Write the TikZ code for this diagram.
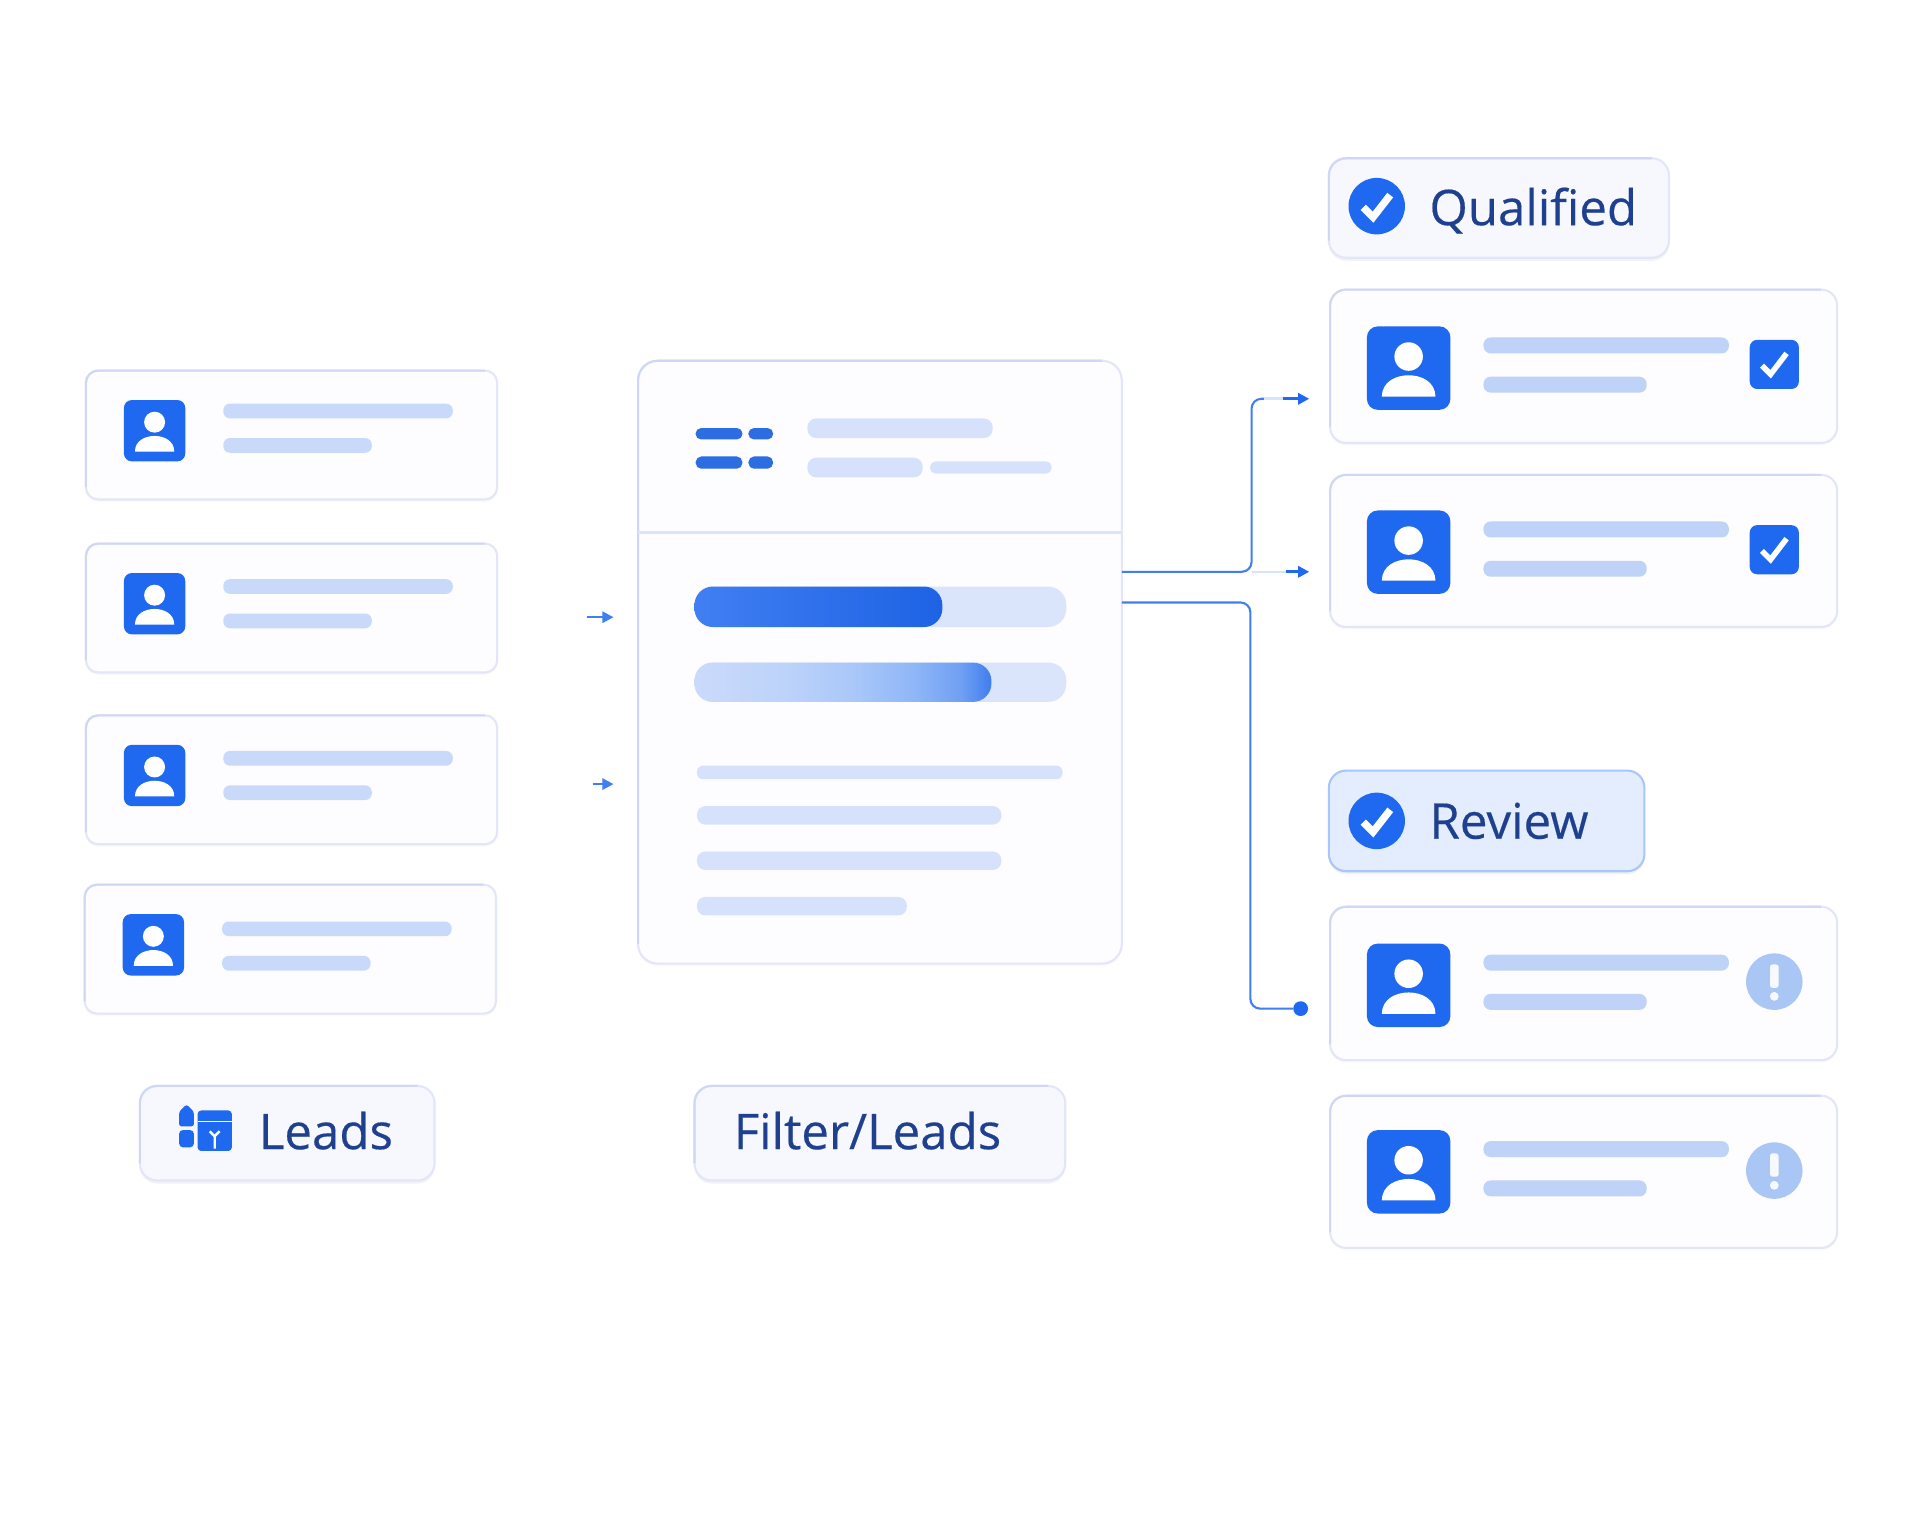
\documentclass[tikz,border=0pt]{standalone}
\usepackage{fontspec}
\setmainfont[Ligatures=NoCommon,FakeBold=0.35]{Open Sans}
\usetikzlibrary{arrows.meta,shadows,calc}
\definecolor{brandblue}{HTML}{1F68F0}
\definecolor{barsoft}{HTML}{C9D9FA}
\definecolor{barright}{HTML}{BFD2F7}
\definecolor{barpanel}{HTML}{D6E2FB}
\definecolor{track}{HTML}{DAE5FB}
\definecolor{cardfill}{HTML}{FDFCFF}
\definecolor{cardline}{HTML}{E3E6F8}
\definecolor{cardedge}{HTML}{CFD7F4}
\definecolor{labelfill}{HTML}{F6F8FE}
\definecolor{labelink}{HTML}{1F408F}
\definecolor{warnblue}{HTML}{A9C6F5}
\definecolor{connblue}{HTML}{3F7FF2}
\definecolor{connfaint}{HTML}{D6E3FD}
\definecolor{dashblue}{HTML}{2C6DE2}
\definecolor{gradA}{HTML}{CADAFB}
\definecolor{gradB}{HTML}{BDD3FA}
\definecolor{gradC}{HTML}{A9C7F9}
\definecolor{gradD}{HTML}{8FB6F7}
\definecolor{gradF}{HTML}{6F9FF3}
\definecolor{gradE}{HTML}{3F7DEF}
\pgfdeclarehorizontalshading{progtwo}{100bp}{color(0bp)=(gradA); color(25bp)=(gradA); color(40bp)=(gradB); color(52bp)=(gradC); color(62bp)=(gradD); color(70bp)=(gradF); color(75bp)=(gradE); color(100bp)=(gradE)}
\tikzset{
  every node/.style={outer sep=0pt},
  cardbox/.style={draw=cardline,fill=cardfill,line width=.17mm,rounded corners=.1cm,anchor=north west,inner sep=0pt,
    general shadow={fill=black!2,shadow yshift=-.02cm}},
  labelbox/.style={draw=cardline,fill=labelfill,line width=.17mm,rounded corners=.14cm,anchor=north west,inner sep=0pt,
    general shadow={fill=black!5,shadow yshift=-.025cm}},
  avatarbox/.style={fill=brandblue,inner sep=0pt,anchor=north west},
  labeltext/.style={text=labelink,anchor=base west,inner sep=0pt,font=\fontsize{11.4}{13}\selectfont},
  conn/.style={draw=connblue,line width=.17mm,rounded corners=.08cm},
  connlight/.style={draw=connfaint,line width=.2mm},
  stub/.style={draw=brandblue,line width=.25mm,-{Triangle[length=.09cm,width=.09cm]}},
  whitecheck/.style={draw=white,line width=.06cm,line join=miter}
}
% darker top and left edge: name, radius
\newcommand\edgeline[2]{\draw[draw=cardedge,line width=.17mm,rounded corners=#2] ($(#1.south west)+(0,#2)$) -- (#1.north west) -- ($(#1.north east)+(-#2,0)$);}
% x1 y1 x2 y2 colour
\newcommand\pillbar[5]{\fill[#5,rounded corners={((#4)-(#2))*.0045cm}] (#1,#2) rectangle (#3,#4);}
% name x y size
\newcommand\avatar[4]{%
  \node[avatarbox,rounded corners={#4*.0013cm},minimum size={#4*.01cm}] (#1) at (#2,#3) {};
  \begin{scope}[shift={(#1.center)},x={#4*.0001cm},y={-#4*.0001cm}]
    \fill[white] (0,-13) circle[radius=16];
    \fill[white] (-30,32) .. controls (-30,15) and (-14,8) .. (0,8) .. controls (14,8) and (30,15) .. (30,32) -- cycle;
  \end{scope}}
% name x y baroffset
\newcommand\leadcard[4]{%
  \node[cardbox,minimum width=3.35cm,minimum height=1.05cm] (#1) at (#2,#3) {};
  \edgeline{#1}{.1cm}
  \avatar{#1a}{#2+31}{#3+24}{50}
  \pillbar{#2+112}{#3+27+#4}{#2+299}{#3+39+#4}{barsoft}
  \pillbar{#2+112}{#3+55+#4}{#2+233}{#3+67+#4}{barsoft}}
% name offset y height
\newcommand\rightcard[4]{%
  \node[cardbox,rounded corners=.13cm,minimum width=4.13cm,minimum height={#4*.01cm}] (#1) at (1084,#3) {};
  \edgeline{#1}{.13cm}
  \avatar{#1a}{1114}{#3+30+#2}{68}
  \pillbar{1209}{#3+39+#2}{1409}{#3+52+#2}{barright}
  \pillbar{1209}{#3+71+#2}{1342}{#3+84+#2}{barright}}
% name cx cy
\newcommand\chkbox[3]{%
  \node[fill=brandblue,rounded corners=.06cm,minimum size=.4cm,inner sep=0pt] (#1) at (#2,#3) {};
  \draw[whitecheck,line width=.045cm] (#2-10,#3+1) -- (#2-3,#3+8) -- (#2+10,#3-9);}
\newcommand\warnmark[3]{%
  \node[fill=warnblue,circle,minimum size=.46cm,inner sep=0pt] (#1) at (#2,#3) {};
  \fill[white!90!warnblue,rounded corners=.02cm] (#2-3.5,#3-14) rectangle (#2+3.5,#3+5);
  \fill[white!90!warnblue] (#2,#3+12) circle[radius=3.6];}
\newcommand\okcircle[3]{%
  \node[fill=brandblue,circle,minimum size=.46cm,inner sep=0pt] (#1) at (#2,#3) {};
  \draw[whitecheck] (#2-11,#3+1) -- (#2-3,#3+9) -- (#2+11,#3-9);}
\begin{document}
\begin{tikzpicture}[x=.01cm,y=-.01cm]
\useasboundingbox (0,0) rectangle (1568,1245);
\fill[white] (0,0) rectangle (1568,1245);
% left cards
\leadcard{lead1}{70}{302}{0}
\leadcard{lead2}{70}{443}{2}
\leadcard{lead3}{70}{583}{2}
\leadcard{lead4}{69}{721}{3}
% panel
\node[cardbox,rounded corners=.16cm,minimum width=3.94cm,minimum height=4.91cm] (panel) at (520,294) {};
\edgeline{panel}{.16cm}
\coordinate (divl) at (520,434);
\draw[draw=track,line width=.2mm] (divl) -- (divl -| panel.east);
\pillbar{567}{349}{605}{358}{dashblue}
\pillbar{610}{349}{630}{358}{dashblue}
\pillbar{567}{372}{605}{382}{dashblue}
\pillbar{610}{372}{630}{382}{dashblue}
\pillbar{658}{341}{809}{357}{barpanel}
\pillbar{658}{373}{752}{389}{barpanel}
\pillbar{758}{376}{857}{386}{barpanel}
\pillbar{566}{478}{869}{511}{track}
\shade[left color=brandblue!85!white,right color=brandblue!95!black,rounded corners=.15cm] (566,478) rectangle (768,511);
\pillbar{566}{540}{869}{572}{track}
\shade[shading=progtwo,rounded corners=.15cm] (566,540) rectangle (808,572);
\pillbar{568}{624}{866}{635}{barpanel}
\pillbar{568}{657}{816}{672}{barpanel}
\pillbar{568}{694}{816}{709}{barpanel}
\pillbar{568}{731}{739}{746}{barpanel}
% left arrows
\coordinate (la1) at (478,503); \coordinate (la2) at (500,503);
\coordinate (lb1) at (483,639); \coordinate (lb2) at (500,639);
\draw[stub,draw=connblue,line width=.2mm] (la1) -- (la2);
\draw[stub,draw=connblue,line width=.2mm] (lb1) -- (lb2);
% right cards
\rightcard{q1}{0}{236}{125}
\chkbox{q1c}{1446}{297}
\rightcard{q2}{-1}{387}{124}
\chkbox{q2c}{1446}{448}
\rightcard{r1}{0}{739}{125}
\warnmark{r1w}{1446}{800}
\rightcard{r2}{-2}{893}{124}
\warnmark{r2w}{1446}{954}
% connectors
\coordinate (j1) at (1020,466);
\coordinate (t1) at (1067,325);
\coordinate (t1s) at (1046,325);
\coordinate (t1f) at (1030,325);
\coordinate (t2) at (1067,466);
\coordinate (t2s) at (1048,466);
\coordinate (j2) at (1019,491);
\node[fill=brandblue,circle,minimum size=.12cm,inner sep=0pt] (enddot) at (1060,822) {};
\draw[connlight] (j1) -- (t2s);
\draw[conn] (panel.east |- j1) -- (j1) -- (j1 |- t1s) -- (t1s);
\draw[connlight,line width=.25mm] (t1f) -- (t1s);
\draw[conn] (panel.east |- j2) -- (j2) -- (j2 |- enddot) -- (enddot);
\draw[stub] (t1s) -- (t1);
\draw[stub] (t2s) -- (t2);
% labels
\node[labelbox,minimum width=2.77cm,minimum height=.81cm] (qual) at (1083,129) {};
\edgeline{qual}{.14cm}
\okcircle{qualc}{1122}{168}
\node[labeltext] (qualt) at (1165,183.5) {Qualified};
\node[labelbox,draw=brandblue!38!white,fill=brandblue!12!white,minimum width=2.57cm,minimum height=.82cm] (rev) at (1083,628) {};
\okcircle{revc}{1122}{669}
\node[labeltext] (revt) at (1165,683.5) {Review};
\node[labelbox,minimum width=2.4cm,minimum height=.77cm] (leads) at (114,885) {};
\edgeline{leads}{.14cm}
\node[labeltext] (leadst) at (211,936.5) {Leads};
\node[labelbox,minimum width=3.02cm,minimum height=.77cm] (filt) at (566,885) {};
\edgeline{filt}{.14cm}
\node[labeltext] (filtt) at (598,936.5) {Filter/Leads};
% leads icon
\fill[brandblue,rounded corners=.02cm] (146,906) -- (152,900) -- (158,906) -- (158,918) -- (146,918) -- cycle;
\fill[brandblue,rounded corners=.03cm] (146,921) rectangle (158,935);
\fill[brandblue,rounded corners=.03cm] (161,905) rectangle (189,938);
\draw[white,line width=.012cm] (161,914) -- (189,914);
\draw[white,line width=.02cm] (171,922) -- (175,926) -- (179,922) (175,926) -- (175,936);
\end{tikzpicture}
\end{document}
